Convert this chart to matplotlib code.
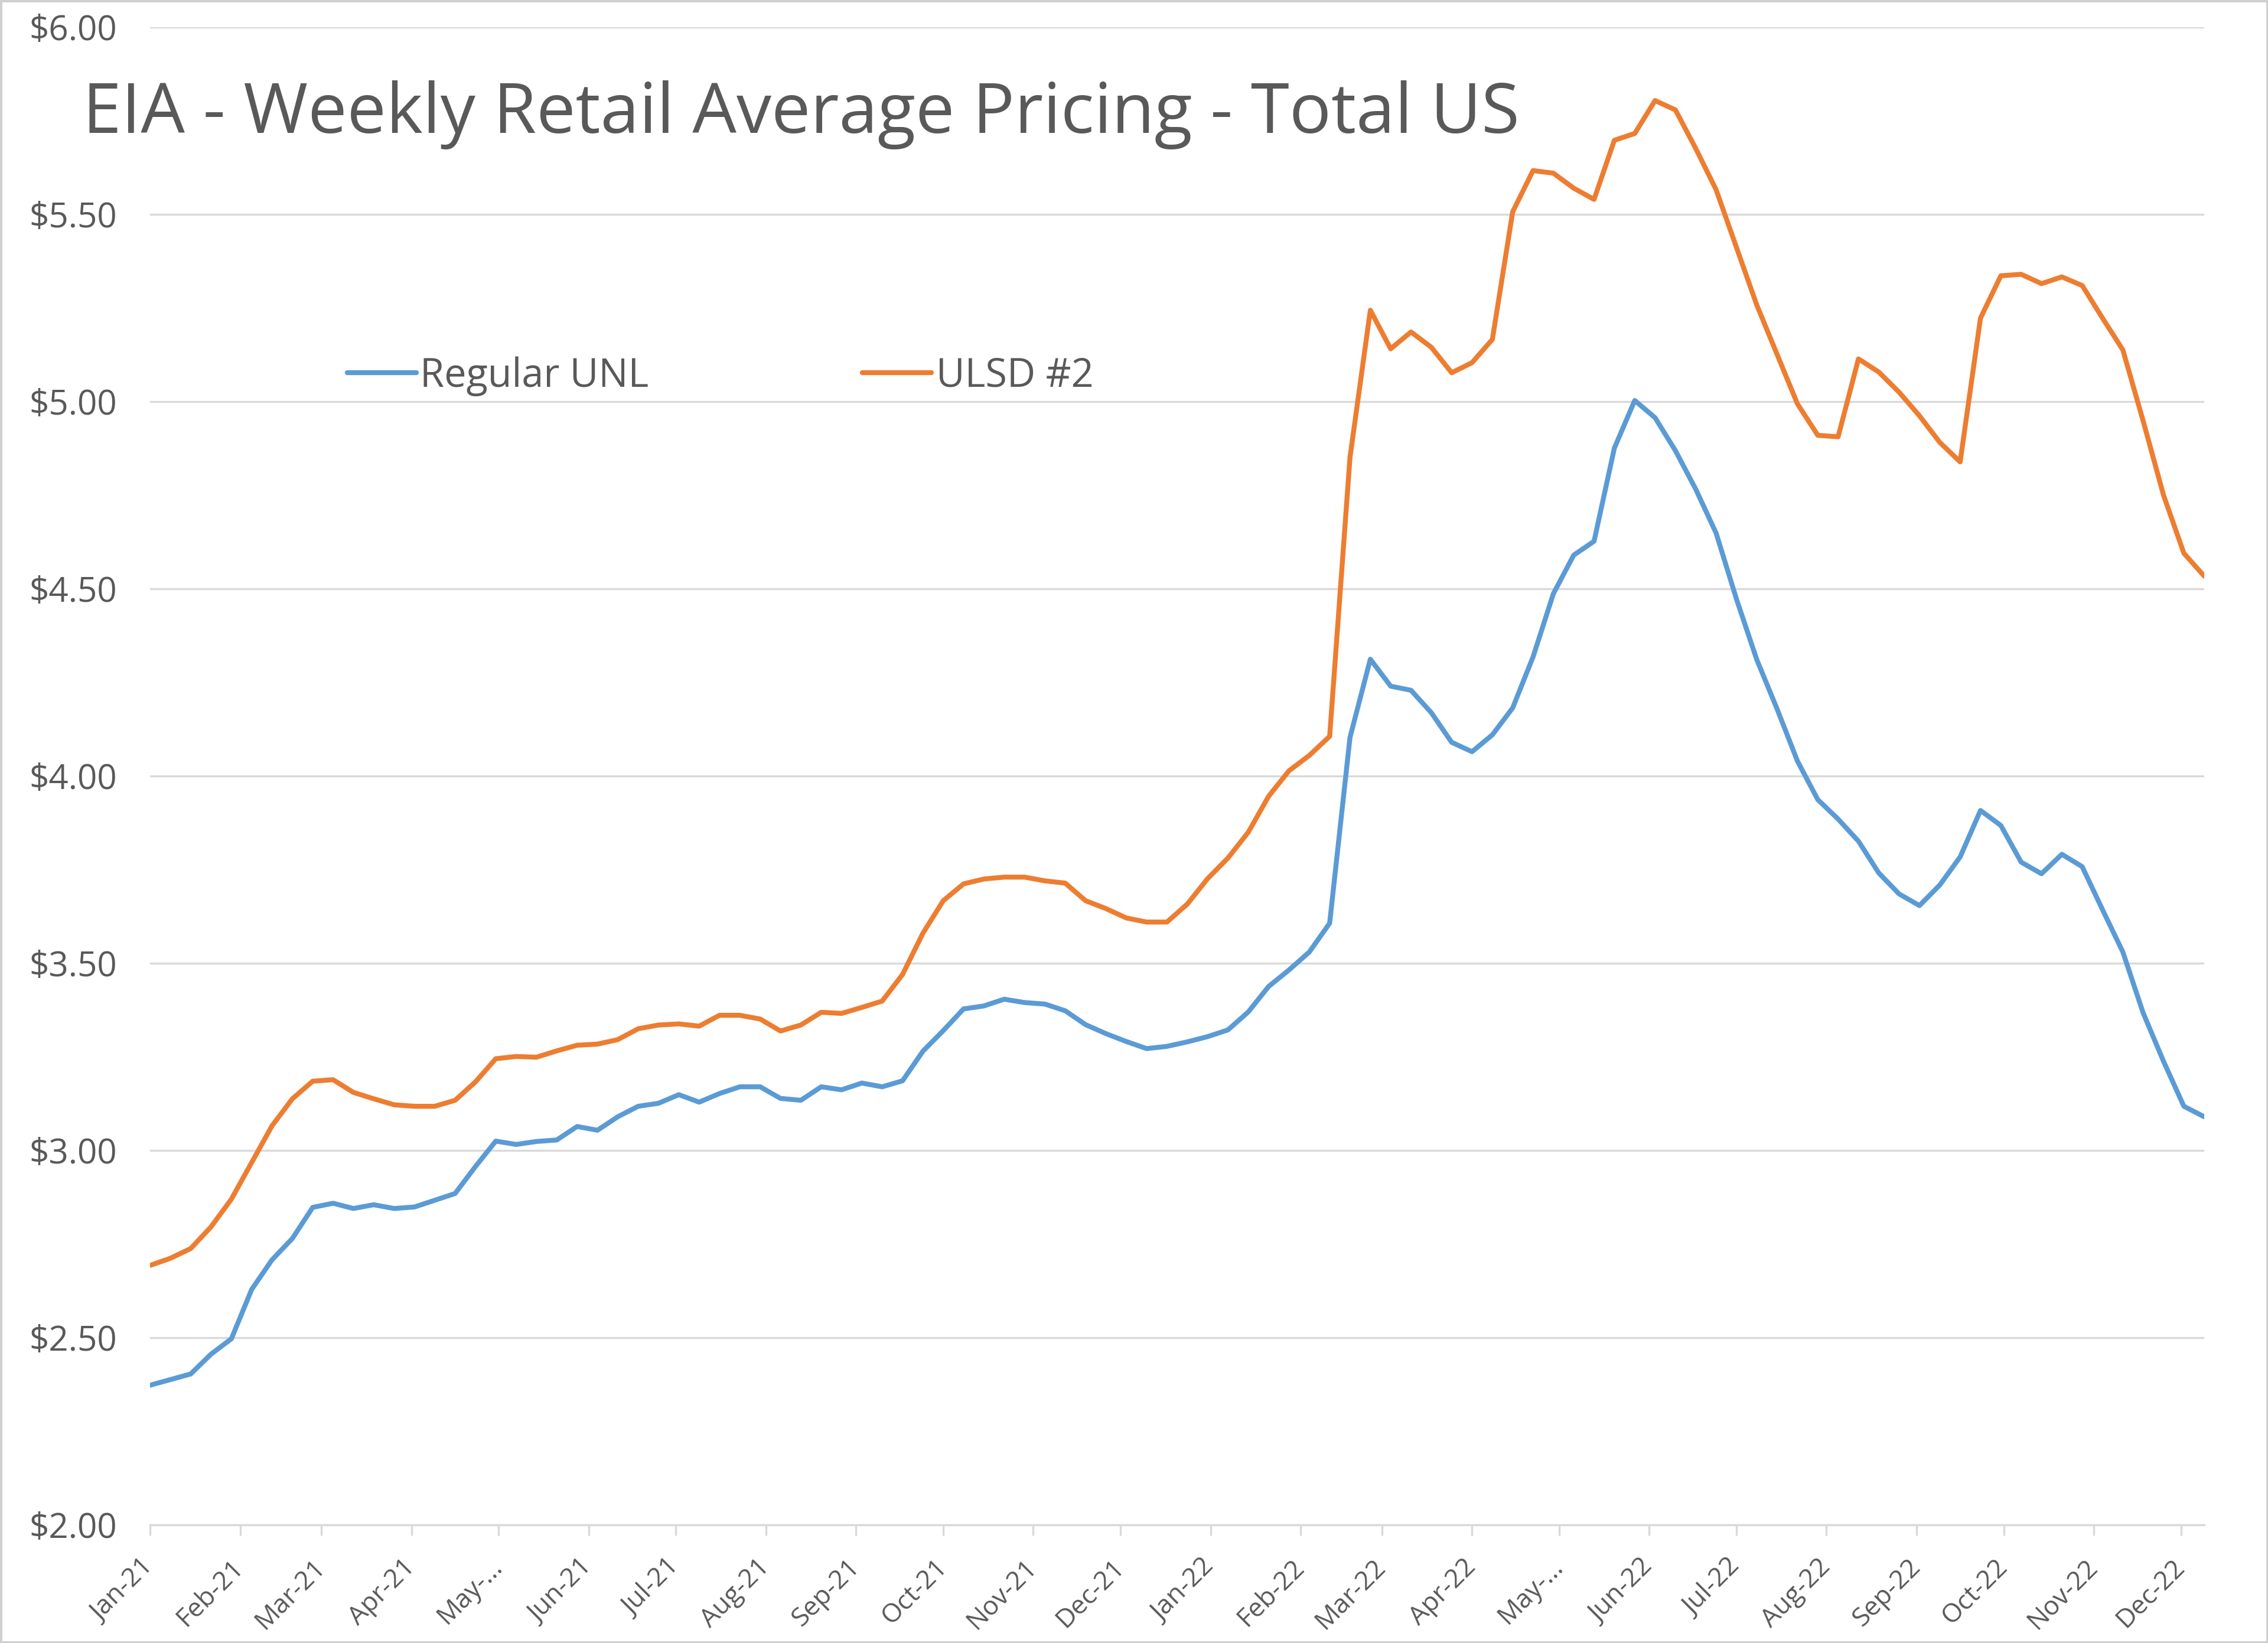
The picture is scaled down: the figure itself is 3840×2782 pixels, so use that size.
import matplotlib
matplotlib.use("Agg")
import matplotlib.pyplot as plt
import pandas as pd
import numpy as np
from matplotlib.ticker import FuncFormatter
from matplotlib.patches import Rectangle

plt.rcParams['font.family'] = ['Open Sans', 'DejaVu Sans']

# ---------------- data ----------------
week_start = "2021-01-18"
n_weeks = 102
weeks = pd.date_range(week_start, periods=n_weeks, freq="7D")

regular_unl = [
    2.373, 2.388, 2.403, 2.456, 2.497, 2.629, 2.708, 2.765, 2.848, 2.859,
    2.845, 2.855, 2.845, 2.849, 2.867, 2.885, 2.957, 3.025, 3.016, 3.024,
    3.028, 3.064, 3.054, 3.090, 3.118, 3.126, 3.149, 3.129, 3.152, 3.170,
    3.170, 3.139, 3.134, 3.170, 3.162, 3.180, 3.170, 3.186, 3.265, 3.320,
    3.378, 3.386, 3.404, 3.395, 3.391, 3.373, 3.336, 3.312, 3.291, 3.272,
    3.278, 3.290, 3.304, 3.322, 3.370, 3.438, 3.482, 3.530, 3.607, 4.103,
    4.312, 4.240, 4.229, 4.169, 4.090, 4.065, 4.110, 4.182, 4.318, 4.487,
    4.590, 4.627, 4.876, 5.003, 4.957, 4.869, 4.766, 4.649, 4.473, 4.311,
    4.179, 4.040, 3.937, 3.885, 3.826, 3.741, 3.685, 3.654, 3.709, 3.784,
    3.908, 3.868, 3.770, 3.739, 3.791, 3.758, 3.643, 3.530, 3.367, 3.238,
    3.118, 3.090,
]

ulsd_2 = [
    2.693, 2.712, 2.738, 2.796, 2.870, 2.968, 3.066, 3.138, 3.185, 3.189,
    3.155, 3.138, 3.122, 3.118, 3.118, 3.134, 3.183, 3.245, 3.251, 3.249,
    3.266, 3.281, 3.284, 3.296, 3.325, 3.335, 3.338, 3.332, 3.361, 3.361,
    3.351, 3.319, 3.335, 3.369, 3.366, 3.382, 3.399, 3.470, 3.580, 3.667,
    3.712, 3.725, 3.730, 3.730, 3.720, 3.714, 3.667, 3.646, 3.621, 3.610,
    3.610, 3.658, 3.726, 3.781, 3.850, 3.946, 4.014, 4.055, 4.106, 4.851,
    5.244, 5.141, 5.186, 5.145, 5.077, 5.104, 5.166, 5.507, 5.617, 5.610,
    5.570, 5.540, 5.698, 5.716, 5.804, 5.779, 5.676, 5.566, 5.412, 5.258,
    5.126, 4.994, 4.910, 4.906, 5.114, 5.079, 5.025, 4.962, 4.891, 4.839,
    5.223, 5.336, 5.340, 5.315, 5.333, 5.310, 5.223, 5.138, 4.948, 4.750,
    4.595, 4.534,
]

series_names = ["Regular UNL", "ULSD #2"]

tick_dates = pd.date_range(week_start, periods=24, freq=pd.DateOffset(months=1))
tick_labels = [
    "Jan-21", "Feb-21", "Mar-21", "Apr-21", "May-...", "Jun-21", "Jul-21", "Aug-21",
    "Sep-21", "Oct-21", "Nov-21", "Dec-21",
    "Jan-22", "Feb-22", "Mar-22", "Apr-22", "May-...", "Jun-22", "Jul-22", "Aug-22",
    "Sep-22", "Oct-22", "Nov-22", "Dec-22",
]

y_ticks = [2.0, 2.5, 3.0, 3.5, 4.0, 4.5, 5.0, 5.5, 6.0]
title = "EIA - Weekly Retail Average Pricing - Total US"

# ---------------- styling ----------------
W, H = 3840, 2782
DPI = 200
BLUE = "#5B9BD5"
ORANGE = "#ED7D31"
TXT = "#595959"
GRID = "#d9d9d9"

fig = plt.figure(figsize=(W / DPI, H / DPI), dpi=DPI)
fig.patch.set_facecolor("white")

ax_left, ax_right, ax_top, ax_bottom = 254, 3732, 46, 2582
ax = fig.add_axes([ax_left / W, 1 - ax_bottom / H,
                   (ax_right - ax_left) / W, (ax_bottom - ax_top) / H])

l1, = ax.plot(weeks, regular_unl, color=BLUE, lw=3.0,
              solid_joinstyle="round", solid_capstyle="round", zorder=3)
l2, = ax.plot(weeks, ulsd_2, color=ORANGE, lw=3.0,
              solid_joinstyle="round", solid_capstyle="round", zorder=3)

ax.set_xlim(weeks[0], weeks[-1])
ax.set_ylim(2, 6)
ax.set_yticks(y_ticks)
ax.yaxis.set_major_formatter(FuncFormatter(lambda v, p: f"${v:.2f}"))
ax.grid(axis="y", color=GRID, lw=1.2, zorder=0)
ax.set_axisbelow(True)

for s in ("top", "right", "left"):
    ax.spines[s].set_visible(False)
ax.spines["bottom"].set_color(GRID)
ax.spines["bottom"].set_linewidth(1.2)

ax.set_xticks(tick_dates)
ax.set_xticklabels(tick_labels)
for lab in ax.get_xticklabels():
    lab.set_rotation(45)
    lab.set_ha("right")
    lab.set_va("center")
    lab.set_rotation_mode("anchor")
ax.tick_params(axis="x", length=6.5, width=1.2, color=GRID, pad=17,
               labelsize=16, labelcolor=TXT)
ax.tick_params(axis="y", length=0, pad=20, labelsize=21, labelcolor=TXT)

# legend (two entries placed where the reference shows them)
LEG_FS = 24
em = LEG_FS * DPI / 72
leg_y = (ax_bottom - 637) / (ax_bottom - ax_top)
leg1 = ax.legend([l1], [series_names[0]], loc="center left",
                 bbox_to_anchor=((588 - ax_left) / (ax_right - ax_left), leg_y),
                 frameon=False, fontsize=LEG_FS, handlelength=117 / em,
                 handletextpad=6 / em, borderpad=0, borderaxespad=0,
                 labelcolor=TXT)
ax.add_artist(leg1)
leg2 = ax.legend([l2], [series_names[1]], loc="center left",
                 bbox_to_anchor=((1460 - ax_left) / (ax_right - ax_left), leg_y),
                 frameon=False, fontsize=LEG_FS, handlelength=117 / em,
                 handletextpad=8 / em, borderpad=0, borderaxespad=0,
                 labelcolor=TXT)

fig.text(140 / W, 1 - 225 / H, title, fontsize=42.5, color=TXT,
         ha="left", va="baseline")

fig.patches.append(Rectangle((0, 0), 1, 1, transform=fig.transFigure,
                             fill=False, edgecolor="#d0d0d0", lw=2.5))

fig.savefig("out.png", dpi=DPI, facecolor="white")
